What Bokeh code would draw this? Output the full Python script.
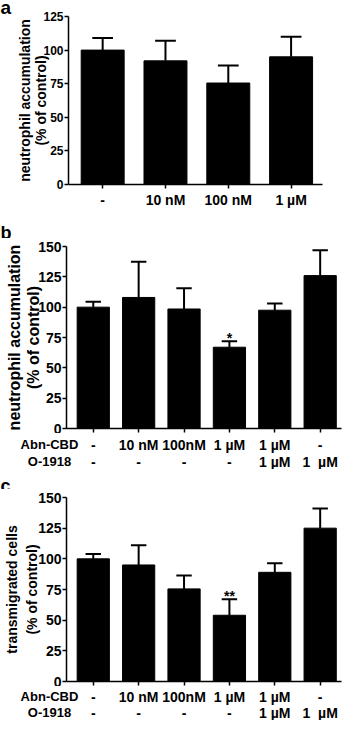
from bokeh.plotting import figure
from bokeh.layouts import column
from bokeh.models import FixedTicker, Title, Range1d, ColumnDataSource
from bokeh.core.properties import value
from bokeh.embed import file_html
from bokeh.resources import INLINE

FONT = "Liberation Sans"

# ---------------- data ----------------
a_abn = ["-", "10 nM", "100 nM", "1 µM"]
a_mean = [100, 92, 75.5, 95]
a_sem = [9, 15, 13, 15]
a_sig = ["", "", "", ""]
a_yticks = [0, 25, 50, 75, 100, 125]

b_abn = ["-", "10 nM", "100nM", "1 µM", "1 µM", "-"]
b_o1918 = ["-", "-", "-", "-", "1 µM", "1\u00a0\u00a0µM"]
b_mean = [100, 108, 98.5, 67, 97.5, 126]
b_sem = [4.5, 29.5, 17, 5, 5.5, 21]
b_sig = ["", "", "", "*", "", ""]
b_yticks = [0, 25, 50, 75, 100, 125, 150]

c_abn = ["-", "10 nM", "100nM", "1 µM", "1 µM", "-"]
c_o1918 = ["-", "-", "-", "-", "1 µM", "1\u00a0\u00a0µM"]
c_mean = [100, 95, 75.5, 54, 89, 125]
c_sem = [4, 16, 11, 13, 7.5, 16]
c_sig = ["", "", "", "**", "", ""]
c_yticks = [0, 25, 50, 75, 100, 125, 150]

row_names = ["Abn-CBD", "O-1918"]
W = 342


def bare(height, xr, yr):
    f = figure(width=W, height=height, output_backend="svg", toolbar_location=None,
               x_range=Range1d(*xr), y_range=Range1d(*yr), min_border=0,
               x_axis_location=None, y_axis_location=None, frame_align=False)
    f.outline_line_color = None
    f.grid.visible = False
    f.background_fill_color = "white"
    f.border_fill_color = "white"
    return f


def header(letter, height, baseline):
    f = bare(height, (0, W), (height, 0))
    f.text(x=[0], y=[baseline], text=[letter], text_align="left",
           text_baseline="alphabetic", text_font=value(FONT), text_font_size="18px",
           text_font_style="bold", color="black")
    return f


def main(mean, sem, sig, ylab, yticks, height, bl, bt, bb, br, xr, bar_w, cap_w,
         ytick_size, title_size, line_h, label_standoff, row1=None, letter=None):
    n = len(mean)
    idx = list(range(n))
    top = [m + s for m, s in zip(mean, sem)]
    src = ColumnDataSource(dict(x=idx, mean=mean, top=top,
                                x0=[i - cap_w / 2 for i in idx],
                                x1=[i + cap_w / 2 for i in idx], sig=sig))
    p = figure(width=W, height=height, output_backend="svg", toolbar_location=None,
               x_range=Range1d(*xr), y_range=Range1d(yticks[0], yticks[-1]),
               min_border_left=bl, min_border_top=bt, min_border_bottom=bb,
               min_border_right=br, frame_align=False)
    p.outline_line_color = None
    p.grid.visible = False
    p.background_fill_color = "white"
    p.border_fill_color = "white"

    p.vbar(x="x", top="mean", bottom=0, width=bar_w, color="black", source=src)
    p.segment(x0="x", y0="mean", x1="x", y1="top", line_width=2, color="black", source=src)
    p.segment(x0="x0", y0="top", x1="x1", y1="top", line_width=2, color="black", source=src)
    p.text(x="x", y="top", text="sig", text_align="center", text_baseline="alphabetic",
           y_offset=-3, text_font=value(FONT), text_font_size="14px",
           text_font_style="bold", color="black", source=src)

    for ax in (p.xaxis[0], p.yaxis[0]):
        ax.axis_line_width = 1.5
        ax.major_tick_line_width = 1.5
        ax.major_tick_in = 0
        ax.major_tick_out = 4
        ax.minor_tick_line_color = None
        ax.major_label_text_font = FONT
        ax.major_label_text_font_style = "bold"
        ax.major_label_text_color = "black"

    xa = p.xaxis[0]
    xa.ticker = FixedTicker(ticks=idx)
    if row1 is not None:
        xa.major_label_overrides = {i: t for i, t in enumerate(row1)}
        xa.major_label_standoff = 3
        xa.major_label_text_font_size = "14px"
    else:
        xa.major_label_overrides = {i: "" for i in idx}
        xa.major_label_standoff = 0
        xa.major_label_text_font_size = "0px"

    ya = p.yaxis[0]
    ya.ticker = FixedTicker(ticks=yticks)
    ya.major_label_standoff = 1
    ya.major_label_text_font_size = ytick_size
    ya.axis_label = "\n".join(ylab)
    ya.axis_label_text_font = FONT
    ya.axis_label_text_font_size = title_size
    ya.axis_label_text_font_style = "bold"
    ya.axis_label_text_color = "black"
    ya.axis_label_text_line_height = line_h
    ya.axis_label_standoff = label_standoff

    if letter is not None:
        p.add_layout(Title(text=letter, align="left", offset=-bl, vertical_align="top",
                           text_font=FONT, text_font_size="19px", text_font_style="bold",
                           text_color="black", standoff=-7), "above")
    return p


def footer(rows, xr, bl, br, height, ys, name_x):
    n = len(rows[0])
    ppx = (W - bl - br) / (xr[1] - xr[0])
    f = bare(height, (xr[0] - bl / ppx, xr[1] + br / ppx), (height, 0))
    idx = list(range(n))
    for r, y in zip(rows, ys):
        f.text(x=idx, y=[y] * n, text=r, text_align="center", text_baseline="middle",
               text_font=value(FONT), text_font_size="14px", text_font_style="bold",
               color="black")
    nx = xr[0] + (name_x - bl) / ppx
    f.text(x=[nx] * len(row_names), y=ys, text=row_names, text_align="center",
           text_baseline="middle", text_font=value(FONT), text_font_size="13px",
           text_font_style="bold", color="black")
    return f


XR_A = (-0.544, 3.5)
XR_BC = (-0.59, 5.47)

pa = main(a_mean, a_sem, a_sig, ["neutrophil accumulation", "(% of control)"], a_yticks,
          216, 68, 16, 32, 20, XR_A, 0.684, 0.33, "12px", "14px", 1.0, -9,
          row1=a_abn, letter="a")

hb = header("b", 22, 16.5)
pb = main(b_mean, b_sem, b_sig, ["neutrophil accumulation", "(% of control)"], b_yticks,
          195, 66, 8, 5, 1, XR_BC, 0.71, 0.34, "14px", "16px", 1.1, -7)
fb = footer([b_abn, b_o1918], XR_BC, 66, 1, 36, [11, 28], 49)

hc = header("c", 20, 16)
pc = main(c_mean, c_sem, c_sig, ["transmigrated cells", "(% of control)"], c_yticks,
          197, 66, 8, 5, 1, XR_BC, 0.71, 0.34, "14px", "14px", 1.25, -5)
fc = footer([c_abn, c_o1918], XR_BC, 66, 1, 34, [10, 26], 49)

layout = column(pa, hb, pb, fb, hc, pc, fc)
open("out.html", "w").write(file_html(layout, INLINE))
